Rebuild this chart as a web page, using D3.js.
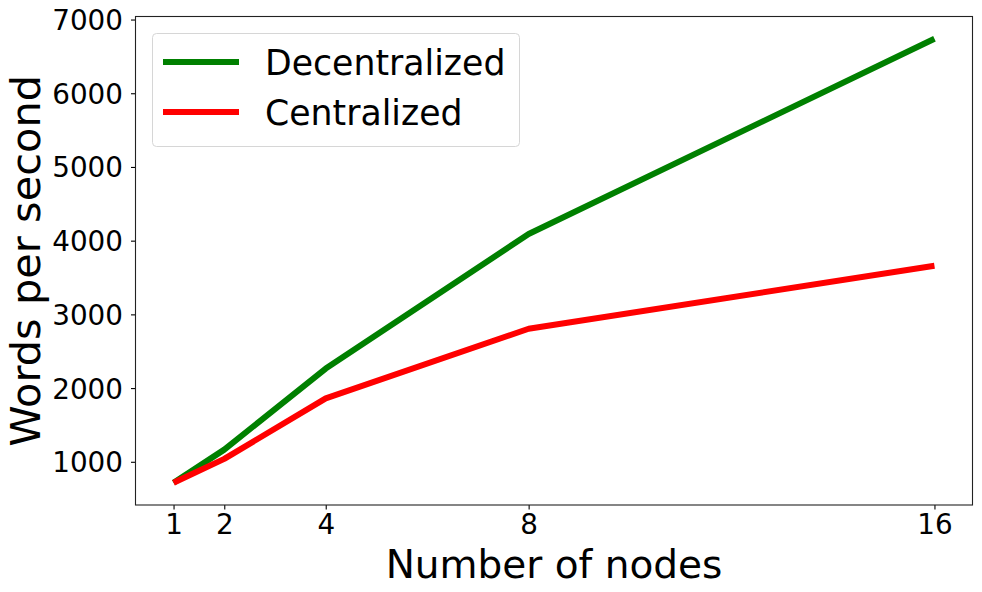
<!DOCTYPE html>
<html lang="en">
<head>
    <meta charset="UTF-8">
    <title>Words per second vs nodes</title>
    <script src="https://d3js.org/d3.v7.min.js"></script>
    <style>
        body { margin: 0; background: #fff; }
        svg { display: block; font-family: "DejaVu Sans", sans-serif; }
    </style>
</head>
<body>
<svg width="982" height="592"></svg>

<script>
    // data
    const nodes = [1, 2, 4, 8, 16];
    const decentralized = [715, 1165, 2265, 4090, 6740];
    const centralized = [715, 1040, 1860, 2805, 3660];
    const seriesNames = ["Decentralized", "Centralized"];
    const seriesColors = ["#008000", "#ff0000"];
    const yTicks = [1000, 2000, 3000, 4000, 5000, 6000, 7000];

    const svg = d3.select("svg");
    const plotLeft = 135.5, plotRight = 972.5, plotTop = 16.5, plotBottom = 505;

    // matplotlib style 5% padding
    const xPad = (16 - 1) * 0.05;
    const x = d3.scaleLinear().domain([1 - xPad, 16 + xPad]).range([plotLeft, plotRight]);
    const yMin = 715, yMax = 6740, yPad = (yMax - yMin) * 0.05;
    const y = d3.scaleLinear().domain([yMin - yPad, yMax + yPad]).range([plotBottom, plotTop]);

    // axes
    const xAxis = svg.append("g")
        .attr("transform", `translate(0,${plotBottom})`)
        .call(d3.axisBottom(x).tickValues(nodes).tickFormat(d3.format("d")).tickSizeOuter(0).tickSize(4.5).tickPadding(5));
    const yAxis = svg.append("g")
        .attr("transform", `translate(${plotLeft},0)`)
        .call(d3.axisLeft(y).tickValues(yTicks).tickFormat(d3.format("d")).tickSizeOuter(0).tickSize(4.5).tickPadding(8));

    [xAxis, yAxis].forEach(function (g) {
        g.select(".domain").remove();
        g.selectAll(".tick line").attr("stroke", "#000").attr("stroke-width", 1.1);
        g.selectAll(".tick text")
            .attr("fill", "#000")
            .style("font-family", "DejaVu Sans")
            .style("font-size", "27.8px");
    });
    yAxis.selectAll(".tick text").attr("dy", "0.36em");

    // frame
    svg.append("rect")
        .attr("x", plotLeft).attr("y", plotTop)
        .attr("width", plotRight - plotLeft).attr("height", plotBottom - plotTop)
        .attr("fill", "none").attr("stroke", "#222").attr("stroke-width", 1.1);

    // lines
    const line = d3.line()
        .x(function (d) { return x(d[0]); })
        .y(function (d) { return y(d[1]); });

    [decentralized, centralized].forEach(function (vals, i) {
        svg.append("path")
            .datum(nodes.map(function (n, j) { return [n, vals[j]]; }))
            .attr("d", line)
            .attr("fill", "none")
            .attr("stroke", seriesColors[i])
            .attr("stroke-width", 6)
            .attr("stroke-linejoin", "round")
            .attr("stroke-linecap", "butt");
    });

    // axis labels
    svg.append("text")
        .attr("x", (plotLeft + plotRight) / 2).attr("y", 577.5)
        .attr("text-anchor", "middle")
        .style("font-size", "39px")
        .text("Number of nodes");

    svg.append("text")
        .attr("transform", `translate(40,${(plotTop + plotBottom) / 2}) rotate(-90)`)
        .attr("text-anchor", "middle")
        .style("font-size", "41.5px")
        .text("Words per second");

    // legend
    const legend = svg.append("g");
    legend.append("rect")
        .attr("x", 152.5).attr("y", 33.5)
        .attr("width", 367).attr("height", 113)
        .attr("rx", 4)
        .attr("fill", "#fff").attr("fill-opacity", 0.8)
        .attr("stroke", "#d6d6d6").attr("stroke-width", 1);

    seriesNames.forEach(function (name, i) {
        const cy = 62 + i * 50;
        legend.append("line")
            .attr("x1", 163).attr("x2", 239)
            .attr("y1", cy).attr("y2", cy)
            .attr("stroke", seriesColors[i]).attr("stroke-width", 6);
        legend.append("text")
            .attr("x", 265).attr("y", cy + 12.5)
            .style("font-size", "34.7px")
            .text(name);
    });
</script>
</body>
</html>
